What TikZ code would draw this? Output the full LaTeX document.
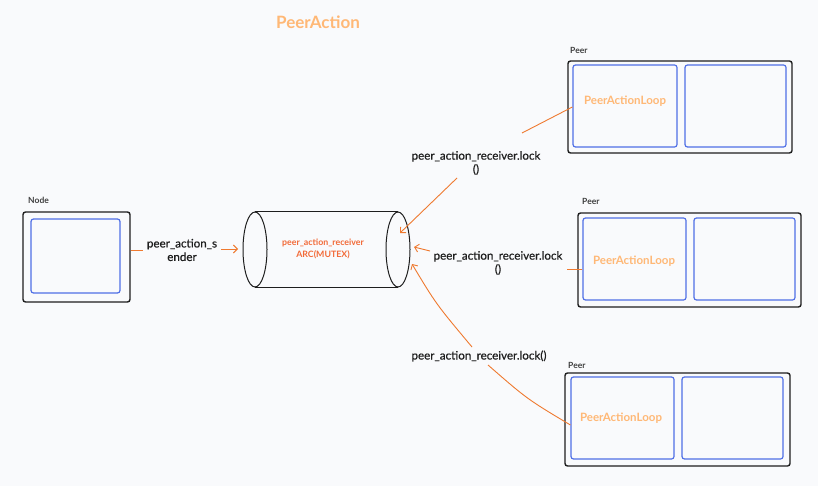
\documentclass[tikz,border=0pt]{standalone}
\usepackage{fontspec}
\setmainfont{Lato}
\newfontfamily\labfont[FakeBold=0.6]{Lato}
\usetikzlibrary{arrows.meta}
\definecolor{bg}{HTML}{F9FAFC}
\definecolor{ink}{HTML}{1E1E1E}
\definecolor{blu}{HTML}{4F6FE6}
\definecolor{org}{HTML}{EF7A30}
\definecolor{recvc}{HTML}{F26A38}
\definecolor{light}{HTML}{FFB876}
\begin{document}
\begin{tikzpicture}[x=1pt,y=-1pt,
  outer/.style={draw=ink, line width=1.4pt, rounded corners=2.5pt, inner sep=0pt},
  inner/.style={draw=blu, line width=1.2pt, rounded corners=2.5pt, inner sep=0pt},
  conn/.style={draw=org, line width=0.9pt},
  arr/.style={conn, -{Straight Barb[length=4pt,width=8pt]}},
  lab/.style={font=\labfont\fontsize{11.6}{13.5}\selectfont, text=ink, align=center, inner sep=0pt},
  small/.style={font=\fontsize{8.5}{9}\selectfont\bfseries, text=ink!85, anchor=west, inner sep=0pt},
  loop/.style={font=\fontsize{11.5}{13}\selectfont\bfseries, text=light, inner sep=0pt},
  recvstyle/.style={font=\fontsize{8.8}{11.5}\selectfont\bfseries, text=recvc, align=center, inner sep=0pt}
]
\fill[bg] (0,0) rectangle (818,486);
\useasboundingbox (0,0) rectangle (818,486);

% title
\node[font=\fontsize{17}{19}\selectfont\bfseries, text=light] (title) at (318,22) {PeerAction};

% Node
\node[small] (nodelab) at (28,200) {Node};
\node[outer, minimum width=107pt, minimum height=90pt] (node) at (76.5,257) {};
\node[inner, minimum width=89pt, minimum height=74pt] (nodein) at (75.5,256) {};

% cylinder
\draw[ink, line width=1pt] (255,249.5) ellipse [x radius=12, y radius=37.5];
\draw[ink, line width=1pt] (398,249.5) ellipse [x radius=12, y radius=37.5];
\draw[ink, line width=1pt] (255,212) -- (398,212);
\draw[ink, line width=1pt] (255,287) -- (398,287);
\node[recvstyle] (recv) at (323,249) {peer\_action\_receiver\\ARC(MUTEX)};
\coordinate (cl) at (238,249);
\coordinate (cr1) at (400,233);
\coordinate (cr2) at (414,247);
\coordinate (cr3) at (412,264);

% sender arrow
\node[lab] (slab) at (182,250) {peer\_action\_s\\ender};
\coordinate (s1) at (143,250);
\coordinate (s2) at (221,249);
\draw[conn] ([yshift=7pt]node.east) -- (s1);
\draw[arr] (s2) -- (cl);

% Peer 1
\node[small] (p1lab) at (570,50) {Peer};
\node[outer, minimum width=224pt, minimum height=92pt] (p1) at (680,107) {};
\node[inner, minimum width=104pt, minimum height=82pt] (p1a) at (625,106) {};
\node[inner, minimum width=101pt, minimum height=82pt] (p1b) at (735.5,106) {};
\node[loop] (p1t) at (625,101) {PeerActionLoop};

% Peer 2
\node[small] (p2lab) at (582,201) {Peer};
\node[outer, minimum width=223pt, minimum height=94pt] (p2) at (689.5,260) {};
\node[inner, minimum width=103pt, minimum height=82pt] (p2a) at (634.5,259) {};
\node[inner, minimum width=101pt, minimum height=82pt] (p2b) at (744.5,259) {};
\node[loop] (p2t) at (634,261) {PeerActionLoop};

% Peer 3
\node[small] (p3lab) at (568,365) {Peer};
\node[outer, minimum width=225pt, minimum height=93pt] (p3) at (677.5,419.5) {};
\node[inner, minimum width=103pt, minimum height=82pt] (p3a) at (622.5,418) {};
\node[inner, minimum width=101pt, minimum height=82pt] (p3b) at (732.5,418) {};
\node[loop] (p3t) at (621,418) {PeerActionLoop};

% connector 1
\node[lab] (l1) at (476,163) {peer\_action\_receiver.lock\\()};
\coordinate (k1a) at (522,133);
\coordinate (k1b) at (457,178);
\draw[conn] ([yshift=-1pt]p1a.west) -- (k1a);
\draw[arr] (k1b) -- (cr1);

% connector 2
\node[lab] (l2) at (498,263) {peer\_action\_receiver.lock\\()};
\coordinate (k2a) at (567,269);
\coordinate (k2b) at (430,251);
\draw[conn] ([yshift=-10pt]p2a.west) -- (k2a);
\draw[arr] (k2b) -- (cr2);

% connector 3
\node[lab] (l3) at (479,356) {peer\_action\_receiver.lock()};
\coordinate (k3a) at (488,365);
\coordinate (k3b) at (472,347);
\draw[conn] ([yshift=-7pt]p3a.west) .. controls (527,399) .. (k3a);
\draw[arr] (k3b) .. controls (436,304) .. (cr3);
\end{tikzpicture}
\end{document}
